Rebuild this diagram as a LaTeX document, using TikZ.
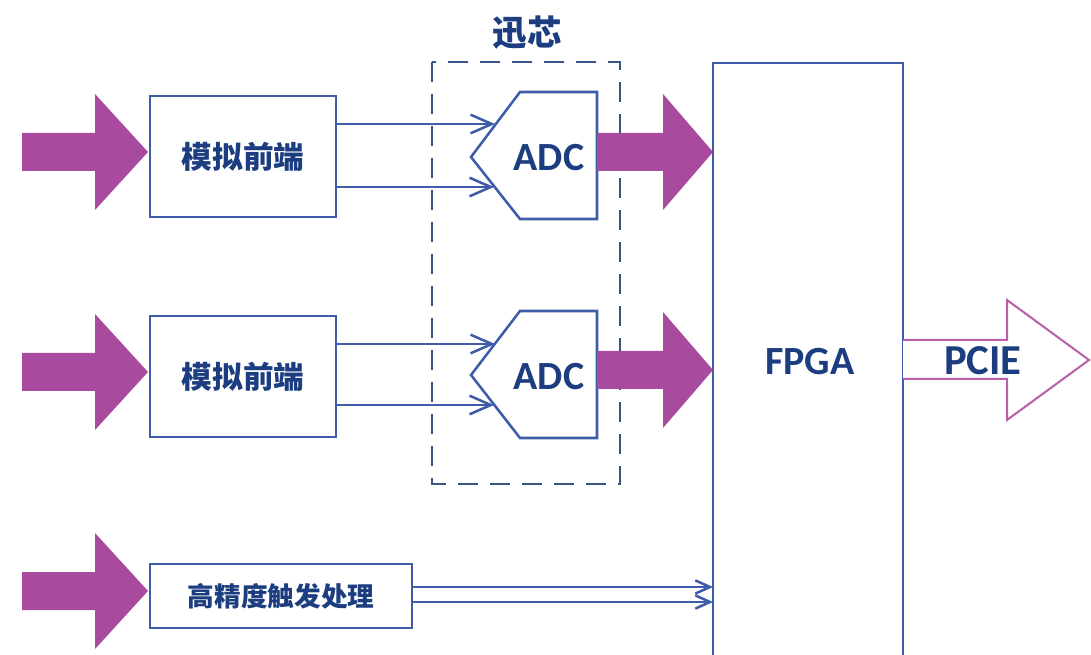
\documentclass[tikz,border=0pt]{standalone}
\usepackage{fontspec}
\setmainfont{Carlito}
\newfontfamily\cjk{Noto Sans CJK SC}
\usetikzlibrary{fit,arrows.meta}
\definecolor{lineblue}{RGB}{62,92,168}
\definecolor{txtblue}{RGB}{28,62,128}
\definecolor{dashblue}{RGB}{58,84,132}
\definecolor{mag}{RGB}{168,74,158}
\definecolor{pcieline}{RGB}{185,95,170}
\newcommand\fatarr[4]{\fill[mag] (#1,#4-19) -- (#2,#4-19) -- (#2,#4-58) -- (#3,#4) -- (#2,#4+58) -- (#2,#4+19) -- (#1,#4+19) -- cycle;}
\begin{document}
\begin{tikzpicture}[x=0.75pt,y=-0.75pt,
  blk/.style={draw=lineblue,line width=1.9pt,inner sep=0pt},
  lbl/.style={text=txtblue,font=\bfseries\fontsize{30}{30}\selectfont,inner sep=0pt},
  cn/.style={text=txtblue,font=\cjk\bfseries\fontsize{23}{23}\selectfont,inner sep=0pt},
  sig/.style={draw=lineblue,line width=1.9pt,-{Straight Barb[length=16pt,width=14pt]}},
  sigs/.style={draw=lineblue,line width=1.9pt,-{Straight Barb[length=11pt,width=10pt]}},
  adcshape/.style={draw=lineblue,line width=1.9pt,line join=miter},
]
\useasboundingbox (0,0) rectangle (1091,655);

% dashed chip group
\draw[dashblue,line width=1.9pt,dash pattern=on 15pt off 9pt] (432,62) rectangle (620,484);
\node[text=txtblue,font=\cjk\bfseries\fontsize{26}{26}\selectfont,inner sep=0pt] (xx) at (527,33) {迅芯};

% analog front ends
\node[blk,fit={(150,96)(336,217)}] (fe1) {};
\node[cn] (fe1t) at (fe1.center) {模拟前端};
\node[blk,fit={(150,316)(336,437)}] (fe2) {};
\node[cn] (fe2t) at (fe2.center) {模拟前端};
\node[blk,fit={(150,564)(412,628)}] (trg) {};
\node[cn,font=\cjk\bfseries\fontsize{20}{20}\selectfont] (trgt) at (trg.center) {高精度触发处理};

% FPGA
\node[blk,fit={(713,63)(903,690)}] (fpga) {};
\node[lbl] (fpgat) at (810,362) {FPGA};

% ADCs
\draw[adcshape] (520,92) -- (597,92) -- (597,219) -- (520,219) -- (471,157) -- cycle;
\node[lbl] (adc1) at (549,158) {ADC};
\draw[adcshape] (520,311) -- (597,311) -- (597,438) -- (520,438) -- (471,375) -- cycle;
\node[lbl] (adc2) at (549,377) {ADC};

% input fat arrows
\fatarr{22}{95}{148}{152}
\fatarr{22}{95}{148}{372}
\fatarr{22}{95}{148}{591}
% ADC to FPGA fat arrows
\fatarr{597}{663}{713}{152}
\fatarr{597}{663}{713}{370}

% signal lines
\coordinate (a1i1) at (495,124);
\coordinate (a1i2) at (494,187);
\coordinate (a2i1) at (495,344);
\coordinate (a2i2) at (494,405);
\draw[sig] (fe1.east |- a1i1) -- (a1i1);
\draw[sig] (fe1.east |- a1i2) -- (a1i2);
\draw[sig] (fe2.east |- a2i1) -- (a2i1);
\draw[sig] (fe2.east |- a2i2) -- (a2i2);
\coordinate (t1) at (713,587);
\coordinate (t2) at (713,602);
\draw[sigs] (trg.east |- t1) -- (t1);
\draw[sigs] (trg.east |- t2) -- (t2);

% PCIE hollow arrow
\draw[pcieline,line width=1.5pt,fill=white] (903,340) -- (1007,340) -- (1007,300) -- (1089,360) -- (1007,420) -- (1007,379) -- (903,379);
\node[lbl,font=\bfseries\fontsize{32}{32}\selectfont] (pcie) at (983,361) {PCIE};
\end{tikzpicture}
\end{document}
